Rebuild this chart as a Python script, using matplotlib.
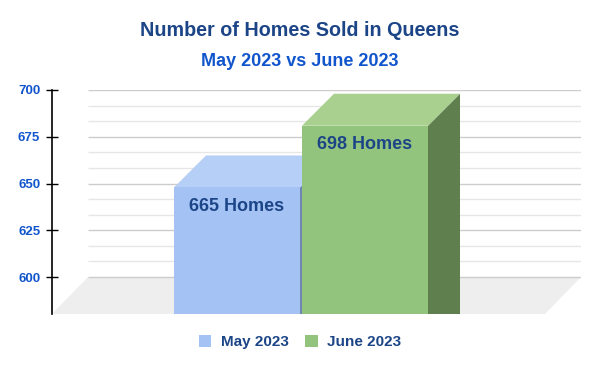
import matplotlib.pyplot as plt
from matplotlib.patches import Polygon, Patch

plt.rcParams['font.family'] = ['Liberation Sans', 'DejaVu Sans']

# data
months = ['May 2023', 'June 2023']
homes_sold = [665, 698]
bar_labels = ['665 Homes', '698 Homes']
front_colors = ['#a4c2f4', '#93c47d']
top_colors = ['#b6cff6', '#a9d08e']
side_colors = ['#6f86b0', '#5f7f4e']
y_ticks = [600, 625, 650, 675, 700]

TITLE_COLOR = '#1c4587'
BLUE = '#1155cc'

# layout in pixels -> data units
PX_X = 128.0          # pixels per category unit
PX_Y = 1.87           # pixels per value unit
floor_dx, floor_dy = 36 / PX_X, 37 / PX_Y
bar_dx, bar_dy = 32 / PX_X, 32 / PX_Y
bar_w = 126 / PX_X
y_top = 700
y_back_floor = 600
y_front_floor = y_back_floor - floor_dy
x_left = (52 - 237) / PX_X
x_right = (581 - 237) / PX_X

fig = plt.figure(figsize=(6, 3.71), dpi=100)
ax = fig.add_axes([52 / 600, (371 - 314) / 371, (581 - 52) / 600, (314 - 90) / 371])
ax.set_xlim(x_left, x_right)
ax.set_ylim(y_front_floor, y_top)

# floor
ax.add_patch(Polygon([(x_left, y_front_floor), (x_right - floor_dx, y_front_floor),
                      (x_right, y_back_floor), (x_left + floor_dx, y_back_floor)],
                     closed=True, facecolor='#eeeeee', edgecolor='none', zorder=1))

# back wall gridlines
minor = [y_back_floor + k * 25 / 3 for k in range(13) if k % 3]
ax.hlines(minor, x_left + floor_dx, x_right, colors='#e6e6e6', lw=1, zorder=2)
ax.hlines(y_ticks, x_left + floor_dx, x_right, colors='#cccccc', lw=1, zorder=2)

# 3d bars, drawn left to right so later bars cover earlier side faces
for i, v in enumerate(homes_sold):
    x0, x1 = i - bar_w / 2, i + bar_w / 2
    front_top = v - bar_dy
    ax.add_patch(Polygon([(x1, y_front_floor), (x1, front_top), (x1 + bar_dx, v),
                          (x1 + bar_dx, y_front_floor)],
                         closed=True, facecolor=side_colors[i], edgecolor='none', zorder=3 + i))
    ax.add_patch(Polygon([(x0, front_top), (x1, front_top), (x1 + bar_dx, v), (x0 + bar_dx, v)],
                         closed=True, facecolor=top_colors[i], edgecolor='none', zorder=3 + i))
    ax.add_patch(Polygon([(x0, y_front_floor), (x1, y_front_floor), (x1, front_top), (x0, front_top)],
                         closed=True, facecolor=front_colors[i], edgecolor='none', zorder=3 + i))
    ax.annotate(bar_labels[i], (i, front_top), xytext=(0, -13.5), textcoords='offset points',
                ha='center', va='center', fontsize=13, fontweight='bold', color=TITLE_COLOR,
                zorder=10)

# axes styling
for s in ['top', 'right', 'bottom']:
    ax.spines[s].set_visible(False)
ax.spines['left'].set_color('black')
ax.spines['left'].set_linewidth(1.2)
ax.set_xticks([])
ax.set_yticks(y_ticks)
ax.tick_params(axis='y', direction='inout', length=8, width=1, pad=4.5,
               labelsize=9.5, labelcolor=BLUE)
for lab in ax.get_yticklabels():
    lab.set_fontweight('bold')

fig.text(0.5, 1 - 31 / 371, 'Number of Homes Sold in Queens', ha='center', va='center',
         fontsize=14.2, fontweight='bold', color=TITLE_COLOR)
fig.text(0.5, 1 - 61 / 371, 'May 2023 vs June 2023', ha='center', va='center',
         fontsize=13, fontweight='bold', color=BLUE)

handles = [Patch(facecolor=c, edgecolor='none') for c in front_colors]
leg = fig.legend(handles, months, loc='center', bbox_to_anchor=(0.5, 1 - 342 / 371), ncol=2,
                 frameon=False, handlelength=0.8, handleheight=0.8, handletextpad=0.6,
                 columnspacing=1.1, prop={'size': 11, 'weight': 'bold'})
for t in leg.get_texts():
    t.set_color(TITLE_COLOR)

fig.savefig('out.png', dpi=100)
